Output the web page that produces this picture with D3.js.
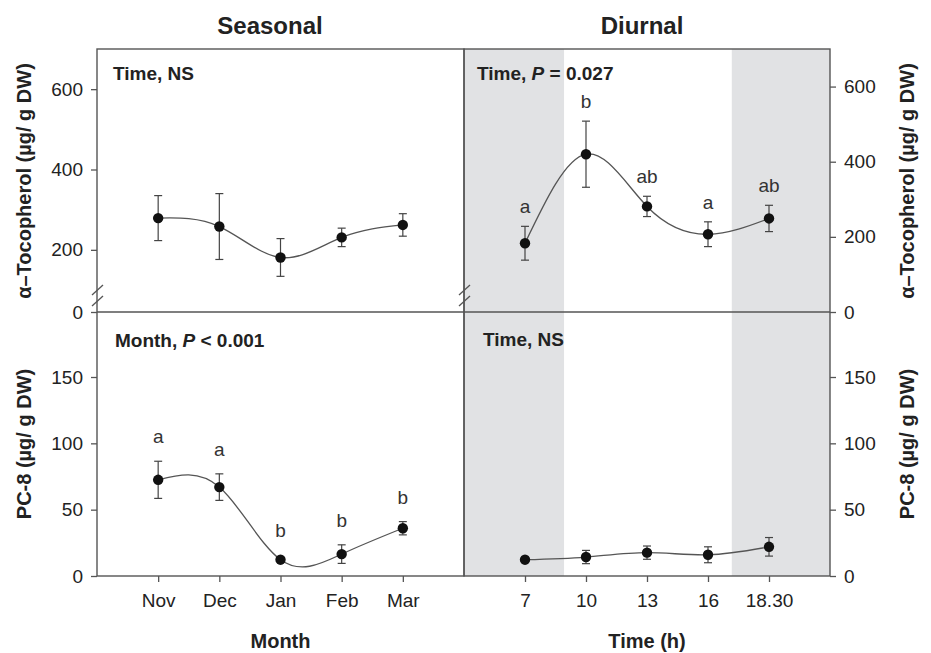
<!DOCTYPE html>
<html>
<head>
<meta charset="utf-8">
<script src="https://cdn.jsdelivr.net/npm/d3@7"></script>
<style>
  body { margin: 0; background: #fff; }
  svg text { font-family: Arial, "Liberation Sans", sans-serif; fill: #222; }
</style>
</head>
<body>
<div id="chart"></div>
<script>
var months = ["Nov", "Dec", "Jan", "Feb", "Mar"];
var hours = ["7", "10", "13", "16", "18.30"];

// alpha-tocopherol (ug/g DW)
var tocoSeasonal = [279, 258, 181, 231, 262];
var tocoSeasonalErr = [56, 82, 47, 23, 28];
var tocoDiurnal = [183, 420, 281, 207, 249];
var tocoDiurnalErr = [45, 88, 27, 33, 35];
var tocoDiurnalLetters = ["a", "b", "ab", "a", "ab"];

// PC-8 (ug/g DW)
var pcSeasonal = [72.5, 67, 12.3, 16.5, 36];
var pcSeasonalErr = [14, 10, 1.5, 7, 5];
var pcSeasonalLetters = ["a", "a", "b", "b", "b"];
var pcDiurnal = [12.3, 14.3, 17.6, 16, 22];
var pcDiurnalErr = [1, 5, 5, 6, 7];

var tocoTicks = [0, 200, 400, 600];
var pcTicks = [0, 50, 100, 150];
// dark periods, in x index units
var nightBands = [[0, 1.64], [4.39, 6]];

var width = 931, height = 653;
var svg = d3.select("#chart").append("svg")
    .attr("width", width)
    .attr("height", height);

var xLeft = 97, xMid = 464, xRight = 830;
var yTop = 49, ySplit = 312, yBottom = 576;

var xL = d3.scaleLinear().domain([0, 6]).range([xLeft, xMid]);
var xR = d3.scaleLinear().domain([0, 6]).range([xMid, xRight]);
// broken axis on the seasonal side
var yTocoL = d3.scaleLinear().domain([0, 100, 700]).range([ySplit, 290, yTop]);
var yTocoR = d3.scaleLinear().domain([0, 700]).range([ySplit, yTop]);
var yPc = d3.scaleLinear().domain([0, 199]).range([yBottom, ySplit]);

// shading for the diurnal panels
svg.selectAll(".night")
    .data(nightBands)
    .enter().append("rect")
    .attr("class", "night")
    .attr("x", function(d) { return xR(d[0]); })
    .attr("width", function(d) { return xR(d[1]) - xR(d[0]); })
    .attr("y", yTop)
    .attr("height", yBottom - yTop)
    .attr("fill", "#e1e2e4");

function drawSeries(x, y, vals, errs, letters, letterGap) {
    var g = svg.append("g");
    var idx = d3.range(1, vals.length + 1);
    var pts = vals.map(function(v, i) { return [x(idx[i]), y(v)]; });

    g.append("path")
        .attr("d", d3.line().curve(d3.curveNatural)(pts))
        .attr("fill", "none")
        .attr("stroke", "#555")
        .attr("stroke-width", 1.3);

    vals.forEach(function(v, i) {
        var cx = x(idx[i]);
        var y1 = y(v + errs[i]), y2 = y(v - errs[i]);
        g.append("line").attr("x1", cx).attr("x2", cx).attr("y1", y1).attr("y2", y2)
            .attr("stroke", "#444").attr("stroke-width", 1.2);
        [y1, y2].forEach(function(yy) {
            g.append("line").attr("x1", cx - 4).attr("x2", cx + 4).attr("y1", yy).attr("y2", yy)
                .attr("stroke", "#444").attr("stroke-width", 1.2);
        });
        g.append("circle").attr("cx", cx).attr("cy", y(v)).attr("r", 5.2).attr("fill", "#111");
        if (letters) {
            g.append("text")
                .attr("x", cx)
                .attr("y", Math.min(y1, y(v) - 5) - letterGap)
                .attr("text-anchor", "middle")
                .attr("font-size", 19)
                .style("fill", "#333")
                .text(letters[i]);
        }
    });
}

drawSeries(xL, yTocoL, tocoSeasonal, tocoSeasonalErr, null, 0);
drawSeries(xR, yTocoR, tocoDiurnal, tocoDiurnalErr, tocoDiurnalLetters, 13);
drawSeries(xL, yPc, pcSeasonal, pcSeasonalErr, pcSeasonalLetters, 18);
drawSeries(xR, yPc, pcDiurnal, pcDiurnalErr, null, 0);

// axes
function styleAxis(g) {
    g.select(".domain").remove();
    g.selectAll(".tick line").attr("stroke", "#555").attr("stroke-width", 1.3);
    g.selectAll(".tick text").attr("font-size", 19).style("fill", "#222");
}

svg.append("g").attr("transform", "translate(" + xLeft + ",0)")
    .call(d3.axisLeft(yTocoL).tickValues(tocoTicks).tickSize(6).tickPadding(8))
    .call(styleAxis);
svg.append("g").attr("transform", "translate(" + xLeft + ",0)")
    .call(d3.axisLeft(yPc).tickValues(pcTicks).tickSize(6).tickPadding(8))
    .call(styleAxis);
svg.append("g").attr("transform", "translate(" + xRight + ",0)")
    .call(d3.axisRight(yTocoR).tickValues(tocoTicks).tickSize(6).tickPadding(8))
    .call(styleAxis);
svg.append("g").attr("transform", "translate(" + xRight + ",0)")
    .call(d3.axisRight(yPc).tickValues(pcTicks).tickSize(6).tickPadding(8))
    .call(styleAxis);

svg.append("g").attr("transform", "translate(0," + yBottom + ")")
    .call(d3.axisBottom(xL).tickValues([1, 2, 3, 4, 5])
        .tickFormat(function(d) { return months[d - 1]; }).tickSize(6).tickPadding(12))
    .call(styleAxis);
svg.append("g").attr("transform", "translate(0," + yBottom + ")")
    .call(d3.axisBottom(xR).tickValues([1, 2, 3, 4, 5])
        .tickFormat(function(d) { return hours[d - 1]; }).tickSize(6).tickPadding(12))
    .call(styleAxis);

// panel frames
[[xLeft, xMid], [xMid, xRight]].forEach(function(p) {
    svg.append("rect")
        .attr("x", p[0]).attr("y", yTop)
        .attr("width", p[1] - p[0]).attr("height", yBottom - yTop)
        .attr("fill", "none").attr("stroke", "#555").attr("stroke-width", 1.4);
});
svg.append("line").attr("x1", xLeft).attr("x2", xRight).attr("y1", ySplit).attr("y2", ySplit)
    .attr("stroke", "#555").attr("stroke-width", 1.4);

// axis break marks
[xLeft, xMid].forEach(function(bx) {
    [yTocoL(100), yTocoL(100) + 11].forEach(function(by) {
        svg.append("line")
            .attr("x1", bx - 5).attr("y1", by + 5)
            .attr("x2", bx + 6).attr("y2", by - 5)
            .attr("stroke", "#555").attr("stroke-width", 1.3);
    });
});

// titles
svg.append("text").attr("x", 270).attr("y", 34).attr("text-anchor", "middle")
    .attr("font-size", 24).attr("font-weight", "bold").text("Seasonal");
svg.append("text").attr("x", 642).attr("y", 34).attr("text-anchor", "middle")
    .attr("font-size", 24).attr("font-weight", "bold").text("Diurnal");
svg.append("text").attr("x", xL(3)).attr("y", 648).attr("text-anchor", "middle")
    .attr("font-size", 20).attr("font-weight", "bold").text("Month");
svg.append("text").attr("x", xR(3)).attr("y", 648).attr("text-anchor", "middle")
    .attr("font-size", 20).attr("font-weight", "bold").text("Time (h)");

function yTitle(x, y, label) {
    svg.append("text")
        .attr("transform", "translate(" + x + "," + y + ") rotate(-90)")
        .attr("text-anchor", "middle")
        .attr("font-size", 20).attr("font-weight", "bold")
        .text(label);
}
yTitle(31, 181, "\u03b1\u2013Tocopherol (\u00b5g/ g DW)");
yTitle(31, 444, "PC-8 (\u00b5g/ g DW)");
yTitle(914, 181, "\u03b1\u2013Tocopherol (\u00b5g/ g DW)");
yTitle(914, 444, "PC-8 (\u00b5g/ g DW)");

// panel annotations
function note(x, y, parts) {
    var t = svg.append("text").attr("x", x).attr("y", y)
        .attr("font-size", 19).attr("font-weight", "bold");
    parts.forEach(function(p) {
        t.append("tspan").attr("font-style", p[1] ? "italic" : "normal").text(p[0]);
    });
}
note(113, 80, [["Time, NS", false]]);
note(477, 80, [["Time, ", false], ["P", true], [" = 0.027", false]]);
note(115, 347, [["Month, ", false], ["P", true], [" < 0.001", false]]);
note(483, 346, [["Time, NS", false]]);
</script>
</body>
</html>
